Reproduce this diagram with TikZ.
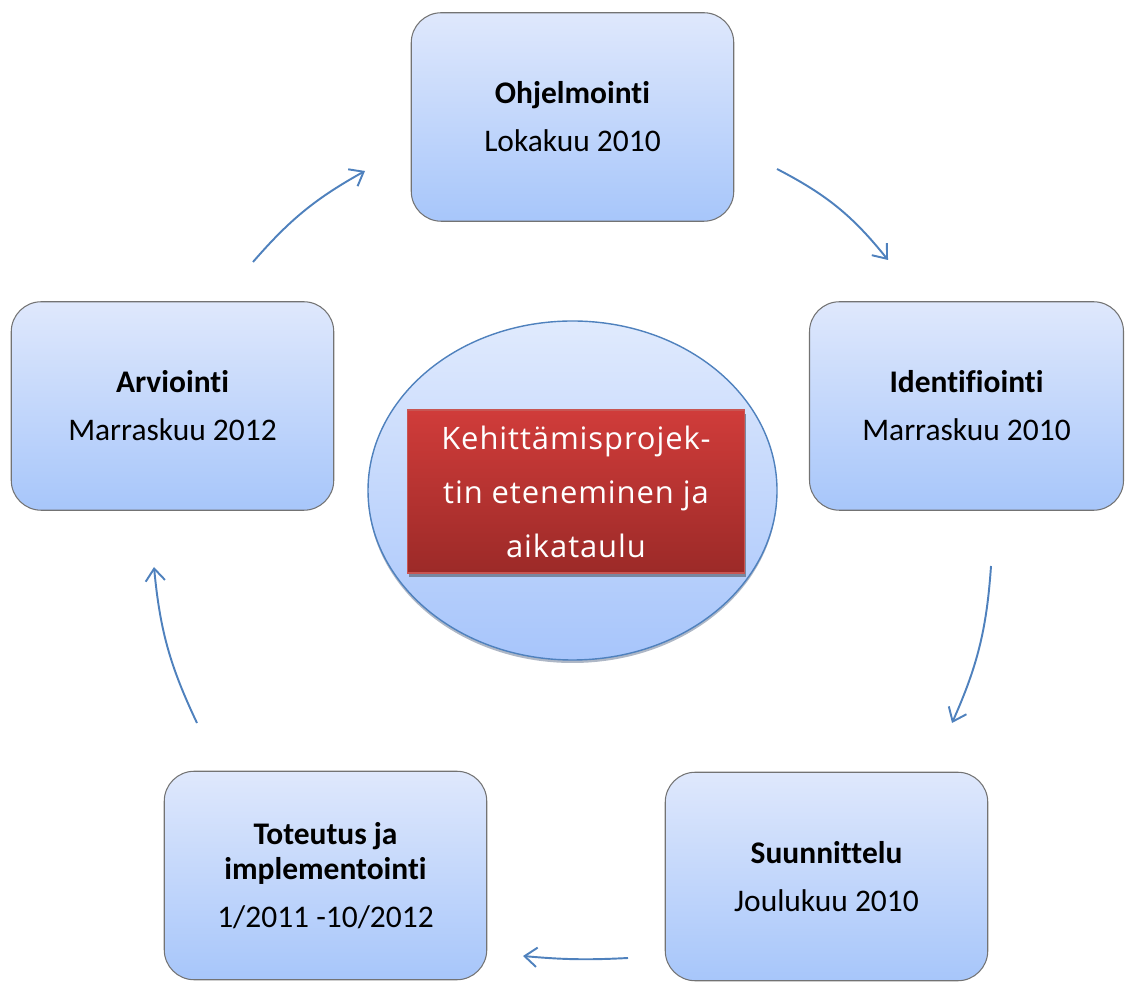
\documentclass[tikz,border=0pt]{standalone}
\usepackage{fontspec}
\setmainfont{Carlito}[Ligatures=NoCommon]
\newfontfamily\redfont{Open Sans}[LetterSpace=3]
\usetikzlibrary{arrows.meta,shapes.geometric}

\definecolor{boxtop}{RGB}{223,232,252}
\definecolor{boxbot}{RGB}{167,198,250}
\definecolor{ovaltop}{RGB}{224,234,253}
\definecolor{ovalbot}{RGB}{167,197,251}
\definecolor{arrowblue}{RGB}{79,129,189}
\definecolor{redtop}{RGB}{208,60,58}
\definecolor{redbot}{RGB}{156,42,40}
\definecolor{redline}{RGB}{200,85,82}
\definecolor{shadowgray}{RGB}{120,135,160}

\begin{document}
\begin{tikzpicture}[
  phase/.style={draw=black!55, line width=0.6pt, rounded corners=0.6cm,
    top color=boxtop, bottom color=boxbot, minimum width=6.45cm,
    minimum height=4.17cm, align=center, inner sep=0pt,
    font=\fontsize{17.9}{27.3}\selectfont},
  flow/.style={draw=arrowblue, line width=1.1pt,
    -{Straight Barb[length=7pt,width=11pt]}, bend left=#1},
]
\useasboundingbox (0,0) rectangle (22.5,19.66);

\node[phase] (ohj) at (11.45,17.32) {\textbf{Ohjelmointi}\\ Lokakuu 2010};
\node[phase, minimum width=6.28cm] (ide) at (19.33,11.54) {\textbf{Identifiointi}\\ Marraskuu 2010};
\node[phase] (suu) at (16.53,2.13) {\textbf{Suunnittelu}\\ Joulukuu 2010};
\node[phase] (tot) at (6.51,2.15) {\textbf{Toteutus ja}\\[-7.5pt]\textbf{implementointi}\\ 1/2011 -10/2012};
\node[phase] (arv) at (3.45,11.54) {\textbf{Arviointi}\\ Marraskuu 2012};

% keskusta
\fill[shadowgray!60] (11.45,9.79) ellipse (4.09cm and 3.39cm);
\node[ellipse, draw=arrowblue, line width=0.8pt, top color=ovaltop, bottom color=ovalbot,
  minimum width=8.18cm, minimum height=6.78cm, inner sep=0pt] (oval) at (11.45,9.85) {};
\fill[shadowgray] (8.17,8.12) rectangle (14.91,11.38);
\node[rectangle, draw=redline, line width=0.6pt, top color=redtop, bottom color=redbot,
  minimum width=6.74cm, minimum height=3.26cm, inner sep=0pt, align=center, text=white,
  font=\redfont\fontsize{17.6}{30.7}\selectfont] (aihe) at (11.52,9.83)
  {Kehittämisprojek-\\ tin eteneminen ja\\ aikataulu};

\coordinate (arvout) at (5.06,14.42);
\coordinate (ohjin) at (7.30,16.24);
\coordinate (ohjout) at (15.54,16.28);
\coordinate (idein) at (17.76,14.46);
\coordinate (ideout) at (19.82,8.34);
\coordinate (suuin) at (19.04,5.20);
\coordinate (suuout) at (12.56,0.50);
\coordinate (totin) at (10.46,0.54);
\coordinate (totout) at (3.94,5.20);
\coordinate (arvin) at (3.08,8.32);

\draw[flow=10] (arvout) to (ohjin);
\draw[flow=12] (ohjout) to (idein);
\draw[flow=10] (ideout) to (suuin);
\draw[flow=4] (suuout) to (totin);
\draw[flow=10] (totout) to (arvin);
\end{tikzpicture}
\end{document}
